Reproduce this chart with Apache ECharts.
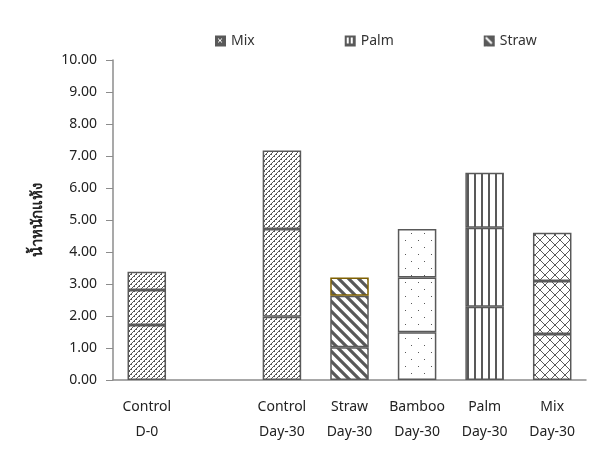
<!DOCTYPE html>
<html>
<head>
<meta charset="utf-8">
<script src="https://cdn.jsdelivr.net/npm/echarts@6/dist/echarts.min.js"></script>
<style>
  html, body { margin: 0; padding: 0; background: #fff; }
  #chart { width: 602px; height: 456px; }
</style>
</head>
<body>
<div id="chart"></div>
<script>
// ข้อมูล (stacked parts)
const categories = ['Control\nD-0', '', 'Control\nDay-30', 'Straw\nDay-30', 'Bamboo\nDay-30', 'Palm\nDay-30', 'Mix\nDay-30'];
const bottomPart = [1.72, null, 1.98, 1.02, 1.49, 2.29, 1.44];
const middlePart = [1.09, null, 2.74, 1.61, 1.71, 2.47, 1.65];
const topPart = [0.57, null, 2.45, 0.57, 1.52, 1.72, 1.51];
const legendNames = ['Mix', 'Palm', 'Straw'];
const yTicks = [0, 1, 2, 3, 4, 5, 6, 7, 8, 9, 10];

const dark = '#595959';

function tile(w, h, draw) {
  const c = document.createElement('canvas');
  c.width = w; c.height = h;
  const ctx = c.getContext('2d');
  ctx.fillStyle = '#fff';
  ctx.fillRect(0, 0, w, h);
  ctx.strokeStyle = dark;
  ctx.fillStyle = dark;
  draw(ctx, w, h);
  return { image: c, repeat: 'repeat' };
}

const patterns = {
  control: tile(5, 5, (ctx) => {
    // little / dashes
    ctx.fillRect(0, 4, 1, 1);
    ctx.fillRect(1, 3, 1, 1);
    ctx.fillRect(3, 1, 1, 1);
    ctx.fillRect(4, 0, 1, 1);
    ctx.fillRect(2, 2, 1, 1);
    ctx.fillRect(1, 4, 1, 1);
    ctx.fillRect(4, 1, 1, 1);
  }),
  straw: tile(10, 10, (ctx) => {
    ctx.lineWidth = 3.2;
    ctx.beginPath();
    ctx.moveTo(-2, -2); ctx.lineTo(12, 12);
    ctx.moveTo(-2, 8); ctx.lineTo(2, 12);
    ctx.moveTo(8, -2); ctx.lineTo(12, 2);
    ctx.stroke();
  }),
  bamboo: tile(13, 14, (ctx) => {
    ctx.fillRect(2, 2, 1, 1);
    ctx.fillRect(8, 9, 1, 1);
  }),
  palm: tile(7, 7, (ctx) => {
    ctx.fillRect(5, 0, 2, 7);
  }),
  mix: tile(10, 10, (ctx) => {
    // diamond lattice
    for (let i = 0; i < 10; i++) {
      ctx.fillRect(i, i, 1, 1);
      ctx.fillRect(9 - i, i, 1, 1);
    }
  })
};

const icons = {
  Mix: tile(10, 10, (ctx) => {
    ctx.fillRect(0, 0, 10, 10);
    ctx.fillStyle = '#fff';
    ctx.fillRect(3, 3, 1, 1); ctx.fillRect(6, 3, 1, 1);
    ctx.fillRect(4, 4, 2, 2);
    ctx.fillRect(3, 6, 1, 1); ctx.fillRect(6, 6, 1, 1);
  }),
  Palm: tile(10, 10, (ctx) => {
    ctx.fillRect(0, 0, 10, 2); ctx.fillRect(0, 8, 10, 2);
    ctx.fillRect(0, 0, 2, 10); ctx.fillRect(8, 0, 2, 10);
    ctx.fillRect(4, 0, 2, 10);
  }),
  Straw: tile(10, 10, (ctx) => {
    ctx.fillRect(0, 0, 10, 10);
    ctx.strokeStyle = '#fff';
    ctx.lineWidth = 2;
    ctx.beginPath();
    ctx.moveTo(2, 2); ctx.lineTo(8, 8);
    ctx.stroke();
  })
};

const fillOf = ['control', null, 'control', 'straw', 'bamboo', 'palm', 'mix'];

function layer(name, values, isTop) {
  return {
    name: name,
    type: 'bar',
    stack: 'total',
    barWidth: '57%',
    data: values.map((v, i) => ({
      value: v,
      itemStyle: {
        color: fillOf[i] ? patterns[fillOf[i]] : '#fff',
        borderColor: (isTop && i === 3) ? '#7f6000' : dark,
        borderWidth: 1.5
      }
    }))
  };
}

const chart = echarts.init(document.getElementById('chart'));
chart.setOption({
  animation: false,
  textStyle: { fontFamily: 'Noto Sans, DejaVu Sans, sans-serif' },
  legend: {
    left: 210,
    top: 29,
    itemGap: 90,
    itemWidth: 11,
    itemHeight: 11,
    icon: 'rect',
    textStyle: { fontSize: 14, color: '#333' },
    data: legendNames.map(n => ({ name: n, itemStyle: { color: icons[n], borderWidth: 0 } }))
  },
  grid: { left: 113, right: 16, top: 60, bottom: 76 },
  xAxis: {
    type: 'category',
    data: categories,
    axisLine: { lineStyle: { color: '#8c8c8c', width: 1.5 } },
    axisTick: { show: false },
    axisLabel: { interval: 0, margin: 15, lineHeight: 25, fontSize: 14, color: '#222' }
  },
  yAxis: {
    type: 'value',
    min: 0,
    max: 10,
    interval: 1,
    name: 'น้ำหนักแห้ง',
    nameLocation: 'middle',
    nameGap: 68,
    nameTextStyle: { fontSize: 15, fontWeight: 'bold', color: '#222' },
    axisLine: { show: true, lineStyle: { color: '#8c8c8c', width: 1.5 } },
    axisTick: { show: true, length: 7, lineStyle: { color: '#8c8c8c' } },
    splitLine: { show: false },
    axisLabel: {
      fontSize: 14,
      color: '#222',
      margin: 16,
      formatter: v => yTicks.indexOf(v) >= 0 ? v.toFixed(2) : ''
    }
  },
  series: [
    layer('Mix', bottomPart, false),
    layer('Palm', middlePart, false),
    layer('Straw', topPart, true)
  ]
});
</script>
</body>
</html>
